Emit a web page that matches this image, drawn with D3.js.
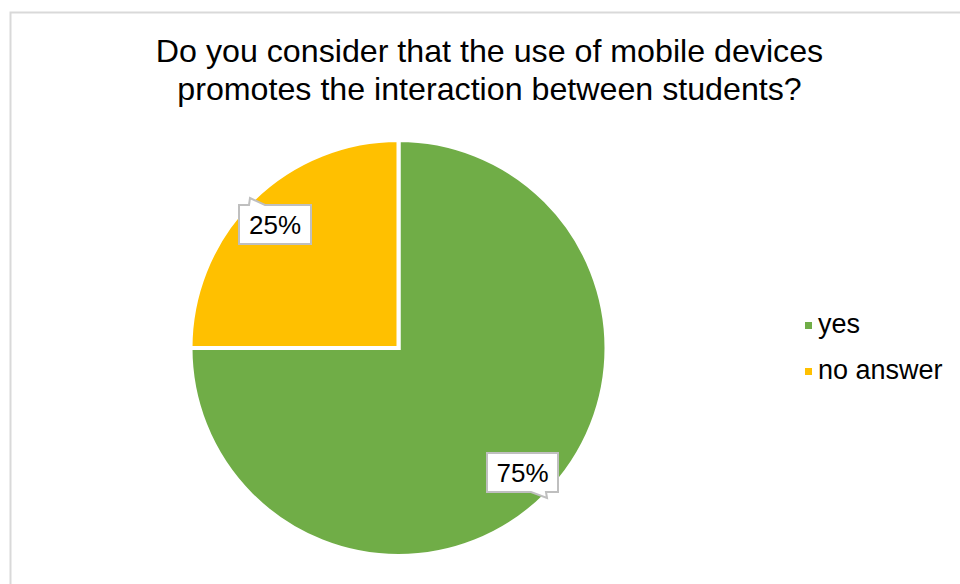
<!DOCTYPE html>
<html>
<head>
<meta charset="utf-8">
<script src="https://cdn.jsdelivr.net/npm/d3@7"></script>
<style>
  html, body { margin: 0; padding: 0; background: #fff; }
  svg { display: block; font-family: "Liberation Sans", Arial, sans-serif; }
</style>
</head>
<body>
<svg id="chart" width="960" height="584"></svg>
<script>
// Survey answers
const categories = ["yes", "no answer"];
const shares = [75, 25];
const colors = ["#70ad47", "#ffc000"];
const titleLines = [
  "Do you consider that the use of mobile devices",
  "promotes the interaction between students?"
];

const svg = d3.select("#chart");

// Chart frame
svg.append("rect")
  .attr("x", 10.5).attr("y", 12.5)
  .attr("width", 960).attr("height", 600)
  .attr("fill", "#fff")
  .attr("stroke", "#d9d9d9")
  .attr("stroke-width", 2);

// Title
const title = svg.append("text")
  .attr("text-anchor", "middle")
  .attr("font-size", 32.2)
  .attr("fill", "#000");
titleLines.forEach((t, i) => {
  title.append("tspan").attr("x", 489.5).attr("y", 62 + i * 38).text(t);
});

// Pie
const cx = 398.5, cy = 348, r = 208;
const data = categories.map((c, i) => ({ name: c, value: shares[i], color: colors[i] }));
const pie = d3.pie().value(d => d.value).sort(null);
const arcs = pie(data);
const arc = d3.arc().innerRadius(0).outerRadius(r);

const g = svg.append("g").attr("transform", `translate(${cx},${cy})`);
g.selectAll("path")
  .data(arcs)
  .join("path")
  .attr("d", arc)
  .attr("fill", d => d.data.color)
  .attr("stroke", "#fff")
  .attr("stroke-width", 4)
  .attr("stroke-linejoin", "miter");

// Callout data labels: box around text, with a small pointer tab
const callouts = [
  { box: [239, 205, 72, 39], tab: "top-left" },     // no answer
  { box: [487, 453, 71, 39], tab: "bottom-right" }  // yes
];
const calloutOrder = [1, 0];

calloutOrder.forEach((di, k) => {
  const a = arcs[di];
  const c = callouts[k];
  const [x, y, w, h] = c.box;
  let pts;
  if (c.tab === "top-left") {
    pts = [[x, y], [x + 10, y], [x + 11, y - 7], [x + 26, y], [x + w, y], [x + w, y + h], [x, y + h]];
  } else {
    pts = [[x, y], [x + w, y], [x + w, y + h], [x + w - 12, y + h], [x + w - 11, y + h + 6], [x + w - 27, y + h], [x, y + h]];
  }
  svg.append("path")
    .attr("d", d3.line()(pts) + "Z")
    .attr("fill", "#fff")
    .attr("stroke", "#bfbfbf")
    .attr("stroke-width", 2);
  svg.append("text")
    .attr("x", x + w / 2)
    .attr("y", y + h / 2 + 9)
    .attr("text-anchor", "middle")
    .attr("font-size", 26)
    .attr("fill", "#000")
    .text(d3.format(".0f")(a.data.value) + "%");
});

// Legend
const legend = svg.append("g").attr("transform", "translate(805,325)");
data.forEach((d, i) => {
  const row = legend.append("g").attr("transform", `translate(0,${i * 46})`);
  row.append("rect")
    .attr("x", 0).attr("y", -3)
    .attr("width", 7).attr("height", 7)
    .attr("fill", d.color);
  row.append("text")
    .attr("x", 13).attr("y", 8)
    .attr("font-size", 27)
    .attr("fill", "#000")
    .text(d.name);
});
</script>
</body>
</html>
